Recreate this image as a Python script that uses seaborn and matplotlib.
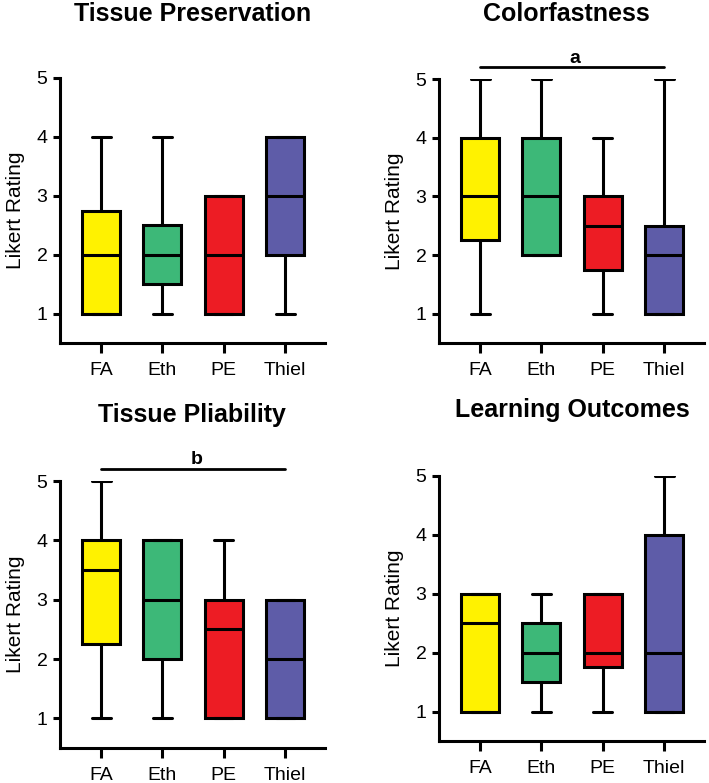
import numpy as np
import pandas as pd
import matplotlib
matplotlib.use("Agg")
import matplotlib.pyplot as plt
import seaborn as sns

# five-number summaries (min, q1, median, q3, max)
groups = ["FA", "Eth", "PE", "Thiel"]
colors = ["#FFF200", "#3DB878", "#ED1C24", "#5E5CA8"]

preservation = {
    "FA": [1, 1, 2, 2.75, 4],
    "Eth": [1, 1.5, 2, 2.5, 4],
    "PE": [1, 1, 2, 3, 3],
    "Thiel": [1, 2, 3, 4, 4],
}
colorfastness = {
    "FA": [1, 2.25, 3, 4, 5],
    "Eth": [2, 2, 3, 4, 5],
    "PE": [1, 1.75, 2.5, 3, 4],
    "Thiel": [1, 1, 2, 2.5, 5],
}
pliability = {
    "FA": [1, 2.25, 3.5, 4, 5],
    "Eth": [1, 2, 3, 4, 4],
    "PE": [1, 1, 2.5, 3, 4],
    "Thiel": [1, 1, 2, 3, 3],
}
learning = {
    "FA": [1, 1, 2.5, 3, 3],
    "Eth": [1, 1.5, 2, 2.5, 3],
    "PE": [1, 1.75, 2, 3, 3],
    "Thiel": [1, 1, 2, 4, 5],
}

titles = ["Tissue Preservation", "Colorfastness", "Tissue Pliability", "Learning Outcomes"]
panels = [preservation, colorfastness, pliability, learning]
sig_labels = [None, "a", "b", None]

W, H = 709, 783
# axes boxes in pixels: left, right, top (y=5), bottom
boxes = [(60, 325, 78, 343), (439, 704, 79, 343),
         (60, 325, 481, 748), (439, 704, 476, 741)]
# title centres in pixels
title_pos = [(193, 14), (566, 14), (192, 415), (572, 410)]

sns.set_style("ticks")
plt.rcParams["font.family"] = ["Liberation Sans", "DejaVu Sans"]
plt.rcParams.update({"text.color": "black", "axes.labelcolor": "black",
                     "xtick.color": "black", "ytick.color": "black",
                     "axes.edgecolor": "black"})

fig = plt.figure(figsize=(W / 100, H / 100), dpi=100)

for title, data, sig, (l, r, t, b), (tx, ty) in zip(titles, panels, sig_labels,
                                                     boxes, title_pos):
    ax = fig.add_axes([l / W, 1 - b / H, (r - l) / W, (b - t) / H])
    df = pd.DataFrame([(g, v) for g in groups for v in data[g]],
                      columns=["group", "value"])
    sns.boxplot(data=df, x="group", y="value", hue="group", order=groups,
                hue_order=groups, palette=colors, width=0.62, whis=(0, 100),
                linewidth=2.2, linecolor="black", saturation=1,
                legend=False, ax=ax)
    ax.set_ylim(0.5, 5)
    ax.set_xlim(-0.67, 3.65)
    ax.set_yticks([1, 2, 3, 4, 5])
    ax.set_xlabel("")
    ax.set_ylabel("Likert Rating", fontsize=15, labelpad=8)
    fig.text(tx / W, 1 - ty / H, title, fontsize=18, fontweight="bold",
             ha="center", va="center")
    sns.despine(ax=ax)
    for s in ["left", "bottom"]:
        ax.spines[s].set_linewidth(2.2)
    ax.tick_params(axis="y", labelsize=14, length=5, width=2.2, pad=4)
    ax.tick_params(axis="x", labelsize=14, length=7, width=2.2, pad=7)
    if sig:
        ax.plot([0, 3], [5.21, 5.21], color="black", lw=2, clip_on=False)
        ax.text(1.55, 5.28, sig, ha="center", va="baseline", fontsize=14,
                fontweight="bold")

fig.savefig("out.png", dpi=100)
